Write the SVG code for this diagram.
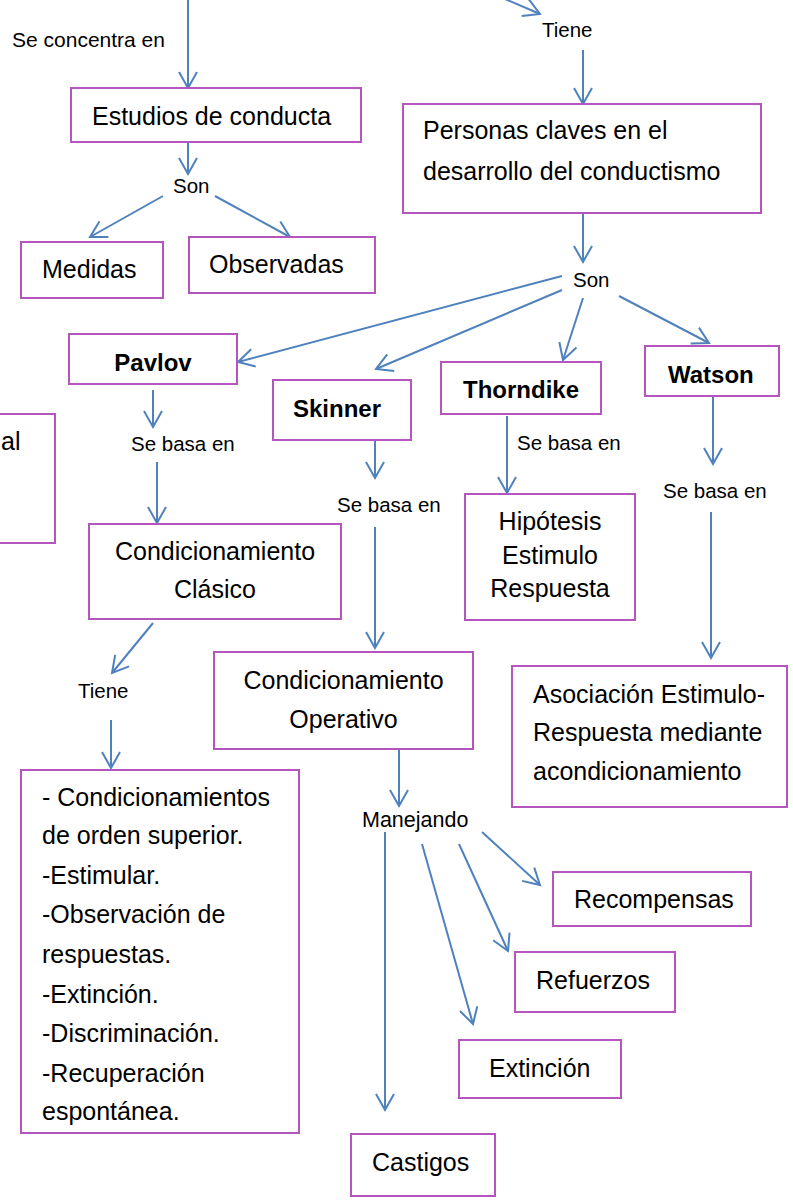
<svg xmlns="http://www.w3.org/2000/svg" width="793" height="1201" viewBox="0 0 793 1201">
<style>
.box{fill:#fff;stroke:#B556BE;stroke-width:2}
.t{font-family:"Liberation Sans",Arial,sans-serif;font-size:25px;fill:#000}
.b{font-family:"Liberation Sans",Arial,sans-serif;font-size:24px;font-weight:bold;fill:#000}
.l{font-family:"Liberation Sans",Arial,sans-serif;font-size:20.5px;fill:#000}
.c{text-anchor:middle}
.e{stroke:#4F81BD;stroke-width:2;fill:none;marker-end:url(#ah)}
</style>
<defs>
<marker id="ah" markerUnits="userSpaceOnUse" viewBox="-18 -11 20 22" markerWidth="20" markerHeight="22" refX="0" refY="0" orient="auto" overflow="visible">
<path d="M-16,-9 L0,0 L-16,9" fill="none" stroke="#4F81BD" stroke-width="2"/>
</marker>
</defs>
<rect width="793" height="1201" fill="#fff"/>
<g id="connectors">
<line class="e" x1="188" y1="0" x2="188" y2="88"/>
<line class="e" x1="505" y1="-1" x2="540" y2="14"/>
<line class="e" x1="583" y1="50" x2="583" y2="104"/>
<line class="e" x1="188" y1="142" x2="188" y2="174"/>
<line class="e" x1="163" y1="196" x2="90" y2="237"/>
<line class="e" x1="215" y1="196" x2="290" y2="237"/>
<line class="e" x1="583" y1="213" x2="583" y2="262"/>
<line class="e" x1="562" y1="276" x2="238" y2="362"/>
<line class="e" x1="562" y1="290" x2="376" y2="369"/>
<line class="e" x1="583" y1="298" x2="563" y2="360"/>
<line class="e" x1="619" y1="296" x2="709" y2="343"/>
<line class="e" x1="153" y1="390" x2="153" y2="427"/>
<line class="e" x1="157" y1="462" x2="157" y2="523"/>
<line class="e" x1="375" y1="440" x2="375" y2="478"/>
<line class="e" x1="375" y1="527" x2="375" y2="648"/>
<line class="e" x1="507" y1="416" x2="507" y2="493"/>
<line class="e" x1="713" y1="396" x2="713" y2="464"/>
<line class="e" x1="711" y1="512" x2="711" y2="658"/>
<line class="e" x1="153" y1="623" x2="112" y2="673"/>
<line class="e" x1="111" y1="720" x2="111" y2="768"/>
<line class="e" x1="399" y1="749" x2="399" y2="806"/>
<line class="e" x1="385" y1="832" x2="385" y2="1110"/>
<line class="e" x1="482" y1="832" x2="540" y2="885"/>
<line class="e" x1="459" y1="844" x2="508" y2="951"/>
<line class="e" x1="422" y1="844" x2="473" y2="1024"/>
</g>
<g id="labels">
<text class="l" x="12" y="47" style="font-size:21px">Se concentra en</text>
<text class="l" x="542" y="37">Tiene</text>
<text class="l" x="173" y="193">Son</text>
<text class="l" x="573" y="287">Son</text>
<text class="l" x="131" y="451">Se basa en</text>
<text class="l" x="337" y="512">Se basa en</text>
<text class="l" x="517" y="450">Se basa en</text>
<text class="l" x="663" y="498">Se basa en</text>
<text class="l" x="78" y="698">Tiene</text>
<text class="l" x="362" y="827" style="font-size:21.5px">Manejando</text>
</g>
<g id="n-al"><rect class="box" x="-10" y="414" width="65" height="129"/><text class="t" x="1" y="450">al</text></g>
<g id="n-estudios"><rect class="box" x="71" y="88" width="290" height="54"/><text class="t" x="92" y="125">Estudios de conducta</text></g>
<g id="n-medidas"><rect class="box" x="21" y="242" width="142" height="56"/><text class="t" x="42" y="278">Medidas</text></g>
<g id="n-observadas"><rect class="box" x="189" y="237" width="186" height="56"/><text class="t" x="209" y="273">Observadas</text></g>
<g id="n-personas"><rect class="box" x="403" y="104" width="358" height="109"/><text class="t" x="423" y="139">Personas claves en el</text><text class="t" x="423" y="180">desarrollo del conductismo</text></g>
<g id="n-pavlov"><rect class="box" x="69" y="334" width="168" height="50"/><text class="b c" x="153" y="371">Pavlov</text></g>
<g id="n-skinner"><rect class="box" x="273" y="380" width="138" height="60"/><text class="b" x="293" y="417">Skinner</text></g>
<g id="n-thorndike"><rect class="box" x="441" y="362" width="160" height="52"/><text class="b" x="463" y="398">Thorndike</text></g>
<g id="n-watson"><rect class="box" x="645" y="346" width="134" height="50"/><text class="b" x="668" y="383">Watson</text></g>
<g id="n-clasico"><rect class="box" x="89" y="524" width="252" height="95"/><text class="t c" x="215" y="560">Condicionamiento</text><text class="t c" x="215" y="598">Clásico</text></g>
<g id="n-hipotesis"><rect class="box" x="465" y="494" width="170" height="126"/><text class="t c" x="550" y="530">Hipótesis</text><text class="t c" x="550" y="564">Estimulo</text><text class="t c" x="550" y="597">Respuesta</text></g>
<g id="n-operativo"><rect class="box" x="214" y="652" width="259" height="97"/><text class="t c" x="343.5" y="689">Condicionamiento</text><text class="t c" x="343.5" y="728">Operativo</text></g>
<g id="n-asociacion"><rect class="box" x="512" y="666" width="275" height="141"/><text class="t" x="533" y="703">Asociación Estimulo-</text><text class="t" x="533" y="741">Respuesta mediante</text><text class="t" x="533" y="780">acondicionamiento</text></g>
<g id="n-lista"><rect class="box" x="21" y="770" width="278" height="363"/>
<text class="t" x="42" y="806">- Condicionamientos</text>
<text class="t" x="42" y="844">de orden superior.</text>
<text class="t" x="42" y="884">-Estimular.</text>
<text class="t" x="42" y="923">-Observación de</text>
<text class="t" x="42" y="963">respuestas.</text>
<text class="t" x="42" y="1003">-Extinción.</text>
<text class="t" x="42" y="1042">-Discriminación.</text>
<text class="t" x="42" y="1082">-Recuperación</text>
<text class="t" x="42" y="1120">espontánea.</text>
</g>
<g id="n-recompensas"><rect class="box" x="553" y="872" width="198" height="54"/><text class="t" x="574" y="908">Recompensas</text></g>
<g id="n-refuerzos"><rect class="box" x="515" y="952" width="160" height="60"/><text class="t" x="536" y="989">Refuerzos</text></g>
<g id="n-extincion"><rect class="box" x="459" y="1040" width="162" height="58"/><text class="t" x="489" y="1077">Extinción</text></g>
<g id="n-castigos"><rect class="box" x="351" y="1134" width="144" height="62"/><text class="t" x="372" y="1171">Castigos</text></g>
</svg>
